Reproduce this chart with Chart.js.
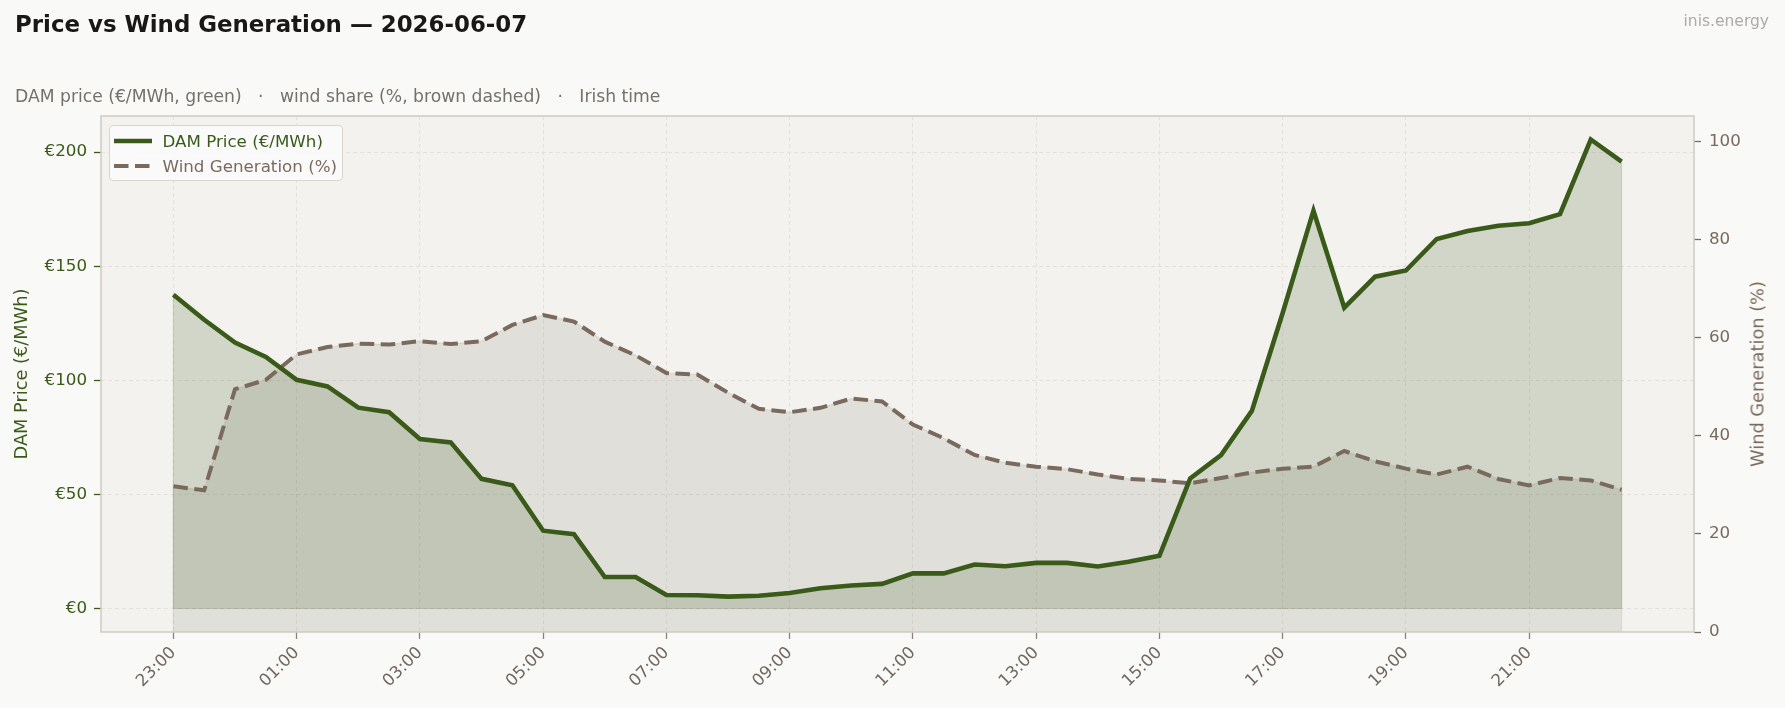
<!DOCTYPE html>
<html>
<head>
<meta charset="utf-8">
<title>Price vs Wind Generation</title>
<script src="https://cdn.jsdelivr.net/npm/chart.js@4.4.1/dist/chart.umd.min.js"></script>
<style>
  body { margin: 0; background: #f9f9f7; font-family: 'DejaVu Sans', sans-serif; }
  #wrap { position: relative; width: 1785px; height: 708px; }
  #chart { position: absolute; left: 0; top: 0; }
  .title { position: absolute; left: 15px; top: 11px; font-size: 22.9px; line-height: 27px; font-weight: bold; color: #1a1817; }
  .subtitle { position: absolute; left: 15px; top: 86px; font-size: 17.2px; line-height: 20px; color: #75706b; white-space: pre; }
  .brand { position: absolute; right: 16px; top: 12px; font-size: 15.5px; line-height: 18px; color: #aeaaa6; }
  .y2title { position: absolute; left: 1757px; top: 374px; font-size: 17.8px; color: #7a6a5e;
             transform: translate(-50%, -50%) rotate(-90deg); white-space: nowrap; }
  #legend { position: absolute; left: 109px; top: 125px; width: 234px; height: 56px; box-sizing: border-box;
            padding: 2px 0 0 3.5px; background: rgba(252,252,251,0.85); border: 1.5px solid #d9d5cf; border-radius: 4px; }
  #legend div { display: flex; align-items: center; height: 25.5px; font-size: 16.7px; white-space: nowrap; }
  #legend svg { margin-right: 11px; flex: none; }
</style>
</head>
<body>
<div id="wrap">
  <canvas id="chart" width="1785" height="708"></canvas>
  <div class="title">Price vs Wind Generation — 2026-06-07</div>
  <div class="subtitle">DAM price (€/MWh, green)   ·   wind share (%, brown dashed)   ·   Irish time</div>
  <div class="brand">inis.energy</div>
  <div class="y2title">Wind Generation (%)</div>
  <div id="legend"></div>
</div>
<script>
// half-hourly slots, Irish time
const times = ['23:00','23:30','00:00','00:30','01:00','01:30','02:00','02:30',
  '03:00','03:30','04:00','04:30','05:00','05:30','06:00','06:30',
  '07:00','07:30','08:00','08:30','09:00','09:30','10:00','10:30',
  '11:00','11:30','12:00','12:30','13:00','13:30','14:00','14:30',
  '15:00','15:30','16:00','16:30','17:00','17:30','18:00','18:30',
  '19:00','19:30','20:00','20:30','21:00','21:30','22:00','22:30'];

const priceValues = [137.5, 126.5, 116.5, 110.2, 100.2, 97.3, 88.0, 86.0,
  74.3, 72.8, 56.8, 54.0, 34.1, 32.6, 13.8, 13.8,
  5.9, 5.8, 5.2, 5.6, 6.8, 8.9, 10.1, 10.8,
  15.4, 15.4, 19.3, 18.5, 20.0, 20.0, 18.4, 20.5,
  23.1, 57.0, 67.2, 86.6, 129.5, 174.3, 131.8, 145.4,
  148.1, 161.9, 165.4, 167.7, 168.8, 172.8, 205.5, 195.8];

const windValues = [29.7, 28.9, 49.5, 51.4, 56.6, 58.1, 58.8, 58.6,
  59.3, 58.7, 59.3, 62.6, 64.6, 63.3, 59.2, 56.4,
  52.8, 52.5, 48.8, 45.5, 44.8, 45.7, 47.6, 47.0,
  42.3, 39.5, 36.1, 34.5, 33.7, 33.2, 32.1, 31.2,
  30.9, 30.3, 31.4, 32.5, 33.3, 33.7, 36.9, 34.8,
  33.3, 32.1, 33.7, 31.2, 29.9, 31.4, 30.9, 29.0];

const xTickIdx = [0, 4, 8, 12, 16, 20, 24, 28, 32, 36, 40, 44];
const priceTicks = [0, 50, 100, 150, 200];
const windTicks = [0, 20, 40, 60, 80, 100];

const GREEN = '#3a5a1a';
const BROWN = '#7a6a5e';
const GREY = '#6f6862';

Chart.defaults.font.family = "'DejaVu Sans', sans-serif";

// plot background, faint outline of the filled areas, frame round the axes box
const plotFrame = {
  id: 'plotFrame',
  beforeDraw(chart) {
    const { ctx, chartArea: a } = chart;
    ctx.save();
    ctx.fillStyle = '#f3f2ef';
    ctx.fillRect(a.left, a.top, a.right - a.left, a.bottom - a.top);
    ctx.restore();
  },
  beforeDatasetsDraw(chart) {
    const { ctx, chartArea: a } = chart;
    ctx.save();
    ctx.beginPath();
    ctx.rect(a.left, a.top, a.right - a.left, a.bottom - a.top);
    ctx.clip();
    for (let d = chart.data.datasets.length - 1; d >= 0; d--) {
      const ds = chart.data.datasets[d];
      const meta = chart.getDatasetMeta(d);
      const pts = meta.data;
      const base = meta.yScale.getPixelForValue(0);
      ctx.beginPath();
      ctx.moveTo(pts[0].x, base);
      pts.forEach(p => ctx.lineTo(p.x, p.y));
      ctx.lineTo(pts[pts.length - 1].x, base);
      ctx.closePath();
      ctx.strokeStyle = ds.backgroundColor;
      ctx.lineWidth = 1.2;
      ctx.stroke();
    }
    ctx.restore();
  },
  afterDraw(chart) {
    const { ctx, chartArea: a } = chart;
    ctx.save();
    ctx.strokeStyle = '#d2cdc6';
    ctx.lineWidth = 1.6;
    ctx.strokeRect(a.left, a.top, a.right - a.left, a.bottom - a.top);
    ctx.restore();
  }
};

const fixTicks = (list) => (axis) => { axis.ticks = list.map(v => ({ value: v })); };

const ctx = document.getElementById('chart').getContext('2d');
const chart = new Chart(ctx, {
  type: 'line',
  data: {
    datasets: [{
      label: 'DAM Price (€/MWh)',
      data: priceValues.map((v, i) => ({ x: i, y: v })),
      yAxisID: 'y',
      borderColor: GREEN,
      borderWidth: 4.6,
      backgroundColor: 'rgba(58,90,26,0.18)',
      fill: { value: 0 },
      pointRadius: 0,
      tension: 0
    }, {
      label: 'Wind Generation (%)',
      data: windValues.map((v, i) => ({ x: i, y: v })),
      yAxisID: 'y1',
      borderColor: BROWN,
      borderWidth: 4,
      borderDash: [14.5, 6.5],
      backgroundColor: 'rgba(128,122,110,0.16)',
      fill: 'origin',
      pointRadius: 0,
      tension: 0
    }]
  },
  options: {
    responsive: false,
    animation: false,
    layout: { padding: { top: 116, left: 0, right: 0, bottom: 0 } },
    plugins: {
      legend: { display: false },
      tooltip: { enabled: false },
      filler: { drawTime: 'beforeDatasetsDraw' }
    },
    scales: {
      x: {
        type: 'linear',
        min: -2.35,
        max: 49.35,
        afterBuildTicks: fixTicks(xTickIdx),
        afterFit: (s) => { s.height = 76; },
        ticks: {
          autoSkip: false,
          maxRotation: 45,
          minRotation: 45,
          color: GREY,
          font: { size: 16.7 },
          padding: 4,
          callback: (v) => times[v]
        },
        grid: { color: '#e4e1dc', tickColor: '#8a837d', tickLength: 7, tickWidth: 1.3, tickBorderDash: [] },
        border: { display: false, dash: [4, 3] }
      },
      y: {
        position: 'left',
        min: -10.3,
        max: 215.8,
        afterBuildTicks: fixTicks(priceTicks),
        afterFit: (s) => { s.width = 101; },
        ticks: { color: GREEN, font: { size: 16.7 }, padding: 7, callback: (v) => '€' + v },
        grid: { color: '#e4e1dc', tickColor: GREEN, tickLength: 7, tickWidth: 1.3, tickBorderDash: [] },
        border: { display: false, dash: [4, 3] },
        title: { display: true, text: 'DAM Price (€/MWh)', color: GREEN, font: { size: 17.8 }, padding: { top: 12, bottom: 0 } }
      },
      y1: {
        position: 'right',
        min: 0,
        max: 105.2,
        afterBuildTicks: fixTicks(windTicks),
        afterFit: (s) => { s.width = 91; },
        ticks: { color: BROWN, font: { size: 16.7 }, padding: 8 },
        grid: { drawOnChartArea: false, tickColor: BROWN, tickLength: 7, tickWidth: 1.3 },
        border: { display: false }
      }
    }
  },
  plugins: [plotFrame]
});

// legend inside the plot, top-left
const legend = document.getElementById('legend');
chart.data.datasets.forEach(ds => {
  const row = document.createElement('div');
  const dash = ds.borderDash ? `stroke-dasharray="${ds.borderDash.join(' ')}"` : '';
  row.innerHTML = `<svg width="38" height="8"><line x1="0" y1="4" x2="38" y2="4" stroke="${ds.borderColor}" stroke-width="${ds.borderWidth}" ${dash}/></svg><span style="color:${ds.borderColor}">${ds.label}</span>`;
  legend.appendChild(row);
});
</script>
</body>
</html>
